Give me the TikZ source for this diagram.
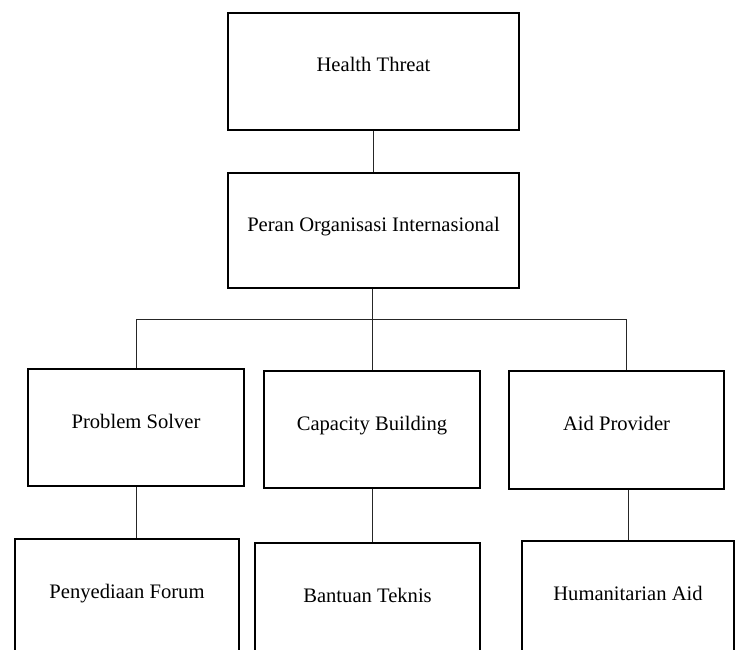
\documentclass[tikz,border=0pt]{standalone}
\usepackage{fontspec}
\setmainfont{Liberation Serif}
\tikzset{
  box/.style={draw,line width=2.6pt,minimum width=216pt,minimum height=117pt,
    font=\fontsize{20.6}{24}\selectfont,text height=14pt,text depth=13pt,inner sep=0pt},
  link/.style={line width=1pt,black!85}
}
\begin{document}
\begin{tikzpicture}[x=1pt,y=-1pt]
                \path[use as bounding box,clip] (0,0) rectangle (736,650);
                \node[box,minimum width=291pt] (threat) at (373.5,71.5) {Health Threat};
                \node[box,minimum width=291pt,minimum height=115pt] (peran) at (373.5,230.5) {Peran Organisasi Internasional};
                \node[box] (solver) at (136,427.5) {Problem Solver};
                \node[box] (capacity) at (372,429.5) {Capacity Building};
                \node[box,minimum width=215pt,minimum height=118pt] (aid) at (616.5,430) {Aid Provider};
                \node[box,minimum width=224pt] (forum) at (127,597.5) {Penyediaan Forum};
                \node[box,minimum width=225pt] (teknis) at (367.5,601.5) {Bantuan Teknis};
                \node[box,minimum width=212pt] (human) at (628,599.5) {Humanitarian Aid};
                \coordinate (bus) at (371,319);
                \draw[link](threat.south)--(peran.north);
                \draw[link](capacity.north |- peran.south)--(capacity.north);
                \draw[link](solver.north)|-([xshift=9.5pt]aid.north |- bus)--([xshift=9.5pt]aid.north);
                \draw[link](solver.south)--(solver.south |- forum.north);
                \draw[link](capacity.south)--(capacity.south |- teknis.north);
                \draw[link](human.north |- aid.south)--(human.north);
            \end{tikzpicture}
\end{document}
